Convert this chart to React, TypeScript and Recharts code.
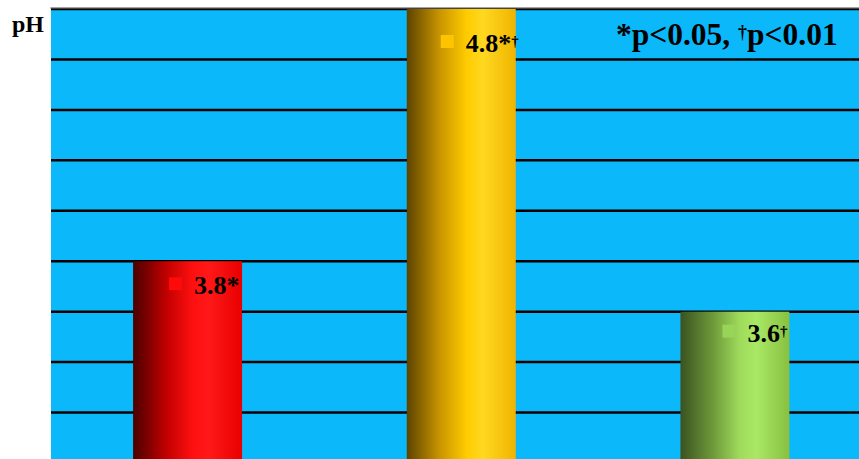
import * as React from "react";
import { Bar, BarChart, CartesianGrid, LabelList, XAxis, YAxis } from "recharts";

const groups = ["Group 1", "Group 2", "Group 3"];
const phValues = [3.8, 4.8, 3.6];
const bigMarks = ["*", "*", ""];
const smallMarks = ["", "\u2020", "\u2020"];
const yTicks = [3.0, 3.2, 3.4, 3.6, 3.8, 4.0, 4.2, 4.4, 4.6, 4.8];

// gradient stops for the cylinder look: dark left, bright middle, a bit darker right edge
const barShades = [
  ["#4a0000", "#c00000", "#ff1010", "#ff1818", "#e80000"],
  ["#5c4300", "#c89400", "#ffcc00", "#ffd820", "#f0b400"],
  ["#3a5220", "#6e9a3a", "#a0dc5c", "#a8e864", "#88c040"],
];
const keyColors = ["#ff0a0a", "#ffc400", "#98d458"];
// where each data label sits relative to its bar's top-left corner
const labelOffsets = [
  [36, 16],
  [34, 26],
  [42, 13],
];

const data = groups.map((g, i) => ({ group: g, ph: phValues[i], idx: i }));

const FONT = '"Liberation Serif", "Times New Roman", serif';

function CylinderBar(props: any) {
  const { x, y, width, height, index } = props;
  const stops = barShades[index];
  const id = `cyl-${index}`;
  return (
    <g>
      <defs>
        <linearGradient id={id} x1="0" y1="0" x2="1" y2="0">
          <stop offset="0%" stopColor={stops[0]} />
          <stop offset="30%" stopColor={stops[1]} />
          <stop offset="55%" stopColor={stops[2]} />
          <stop offset="70%" stopColor={stops[3]} />
          <stop offset="100%" stopColor={stops[4]} />
        </linearGradient>
      </defs>
      <rect x={x} y={y} width={width} height={height} fill={`url(#${id})`} />
    </g>
  );
}

function ValueLabel(props: any) {
  const { x, y, value } = props;
  if (typeof x !== "number" || typeof y !== "number") return null;
  const i = value as number;
  const [dx, dy] = labelOffsets[i];
  const sx = x + dx;
  const sy = y + dy;
  return (
    <g>
      <rect x={sx} y={sy} width={13} height={13} fill={keyColors[i]} />
      <text x={sx + 25} y={sy + 17} fontFamily={FONT} fontWeight="bold" fontSize={26} fill="#000">
        {phValues[i].toFixed(1)}
        {bigMarks[i]}
        <tspan fontSize={15} dy={-6}>{smallMarks[i]}</tspan>
      </text>
    </g>
  );
}

export default function App() {
  return (
    <div style={{ position: "fixed", left: 0, top: 0, width: 859, height: 459, overflow: "hidden", background: "#fff" }}>
      <BarChart
        width={880}
        height={470}
        data={data}
        margin={{ top: 9, right: 8, left: 51, bottom: 7 }}
        barCategoryGap="30%"
      >
        <CartesianGrid vertical={false} stroke="#000" strokeWidth={2.5} fill="#0bb8f9" fillOpacity={1} />
        <XAxis dataKey="group" hide />
        <YAxis hide domain={[3, 4.8]} ticks={yTicks} />
        <Bar dataKey="ph" isAnimationActive={false} shape={CylinderBar}>
          <LabelList dataKey="idx" content={ValueLabel} />
        </Bar>
      </BarChart>
      <svg width={859} height={60} style={{ position: "absolute", left: 0, top: 0, pointerEvents: "none" }}>
        <line x1={50} y1={8} x2={859} y2={8} stroke="#888" strokeWidth={1} />
        <text x={12} y={32} fontFamily={FONT} fontWeight="bold" fontSize={24} fill="#000">
          pH
        </text>
        <text x={616} y={45} fontFamily={FONT} fontWeight="bold" fontSize={31.5} fill="#000">
          *p&lt;0.05, <tspan fontSize={18} dy={-7}>{"\u2020"}</tspan>
          <tspan dy={7}>p&lt;0.01</tspan>
        </text>
      </svg>
    </div>
  );
}
